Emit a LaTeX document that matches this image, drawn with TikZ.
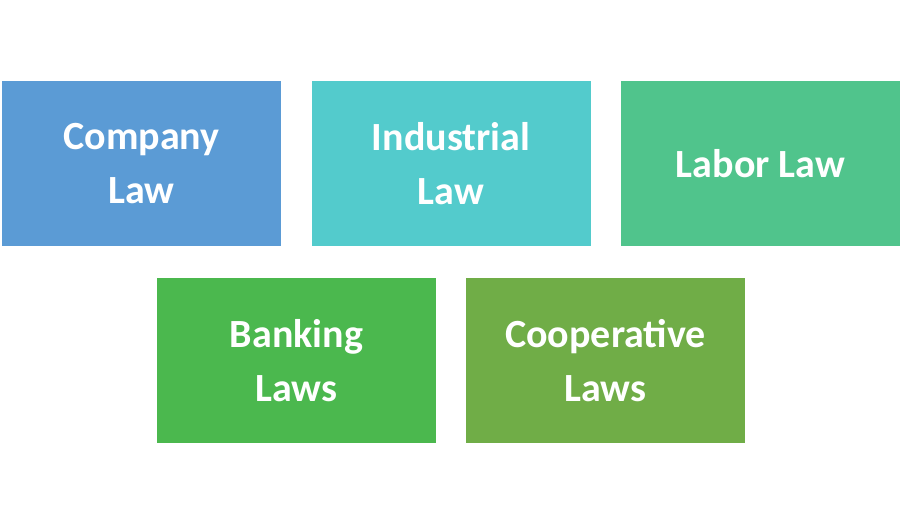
\documentclass[tikz,border=0pt]{standalone}
\usepackage{fontspec}
\setmainfont{Carlito}
\begin{document}
\begin{tikzpicture}[x=1pt,y=-1pt,
  box/.style={draw=none,minimum width=279pt,minimum height=165pt,inner sep=0pt,text=white,align=center,
    font=\bfseries\fontsize{40}{54}\selectfont}]
\useasboundingbox (0,0) rectangle (902,525);
\definecolor{c1}{HTML}{5B9BD5}\definecolor{c2}{HTML}{53CBCC}\definecolor{c3}{HTML}{50C48C}
\definecolor{c4}{HTML}{4BB84E}\definecolor{c5}{HTML}{70AD47}
\node[box,fill=c1] (a) at (141.5,163.5) {Company\\Law};
\node[box,fill=c2] (b) at (451,163.5) {Industrial\\Law};
\node[box,fill=c3] (c) at (760.5,163.5) {Labor Law};
\node[box,fill=c4] (d) at (296.5,360.5) {Banking\\Laws};
\node[box,fill=c5] (e) at (605.5,360.5) {Cooperative\\Laws};
\end{tikzpicture}
\end{document}
